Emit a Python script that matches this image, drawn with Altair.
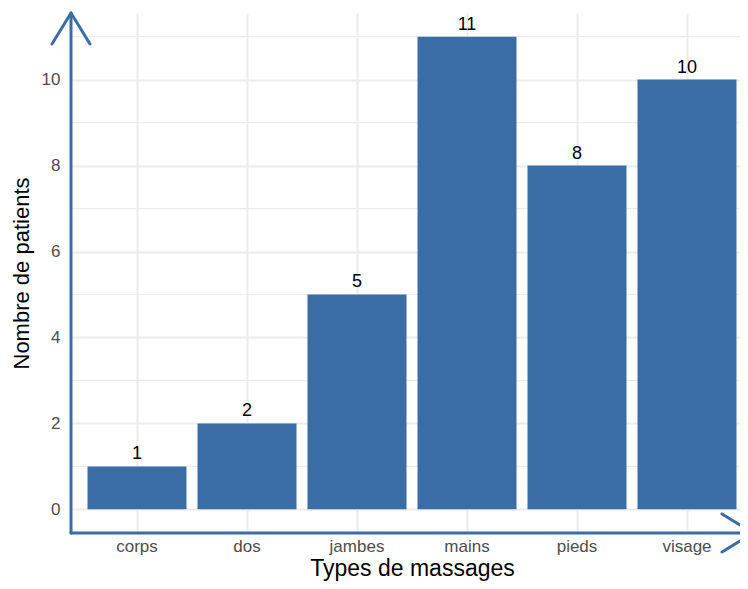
import altair as alt
import pandas as pd

# ---- data ----
categories = ["corps", "dos", "jambes", "mains", "pieds", "visage"]
patients = [1, 2, 5, 11, 8, 10]
y_ticks = [0, 2, 4, 6, 8, 10]
y_minor = [1, 3, 5, 7, 9, 11]

BLUE = "#3A6DA5"
GRID = "#EBEBEB"
FONT = "Liberation Sans"
W, H = 669, 520
XR = 682  # band range (wider than the view: right part cropped like the reference)

df = pd.DataFrame({"type": categories, "n": patients})
minor_df = pd.DataFrame({"v": y_minor})
one = pd.DataFrame({"a": [0]})

yscale = alt.Scale(domain=[-0.55, 11.55], nice=False, zero=False)
xscale = alt.Scale(domain=categories, range=[0, XR], paddingInner=0.1, paddingOuter=0.15)

yaxis = alt.Axis(values=y_ticks, title="Nombre de patients", ticks=False, domain=False,
                 labelPadding=11, titlePadding=8, grid=True, titleFontSize=22)
xaxis = alt.Axis(title="Types de massages", labelAngle=0, ticks=False, grid=True, domain=False,
                 bandPosition=0.5, labelPadding=5, titlePadding=3, titleFontSize=23)


def Y(field):
    return alt.Y(field, type="quantitative", scale=yscale, axis=yaxis)


def X():
    return alt.X("type:N", scale=xscale, sort=categories, axis=xaxis)


minor = alt.Chart(minor_df).mark_rule(color=GRID, strokeWidth=1.2).encode(y=Y("v"))

bars = alt.Chart(df).mark_bar(color=BLUE).encode(x=X(), y=Y("n"))

labels = alt.Chart(df).mark_text(
    dy=-7, baseline="alphabetic", fontSize=18, color="black", font=FONT
).encode(x=X(), y=Y("n"), text="n:Q")


def line(x1, y1, x2, y2):
    return alt.Chart(one).mark_rule(color=BLUE, strokeWidth=3, strokeCap="round").encode(
        x=alt.value(x1), y=alt.value(y1), x2=alt.value(x2), y2=alt.value(y2)
    )


axis_lines = [
    line(0, H, 0, 0),          # y axis line
    line(0, H, XR, H),         # x axis line
    line(-19, 31, 0, 0),       # arrow heads
    line(19, 31, 0, 0),
    line(XR - 31, H - 19, XR, H),
    line(XR - 31, H + 19, XR, H),
]

chart = alt.layer(minor, bars, labels, *axis_lines).properties(
    width=W, height=H,
    autosize="none",
    padding={"left": 63, "top": 5, "right": 0, "bottom": 48},
    background="white",
).configure_view(stroke=None).configure_axis(
    gridColor=GRID, gridWidth=2,
    labelColor="#4D4D4D", labelFontSize=17, labelFont=FONT,
    titleColor="black", titleFontWeight="normal", titleFont=FONT,
)

chart.save("out.html", embed_options={"renderer": "svg", "actions": False})
